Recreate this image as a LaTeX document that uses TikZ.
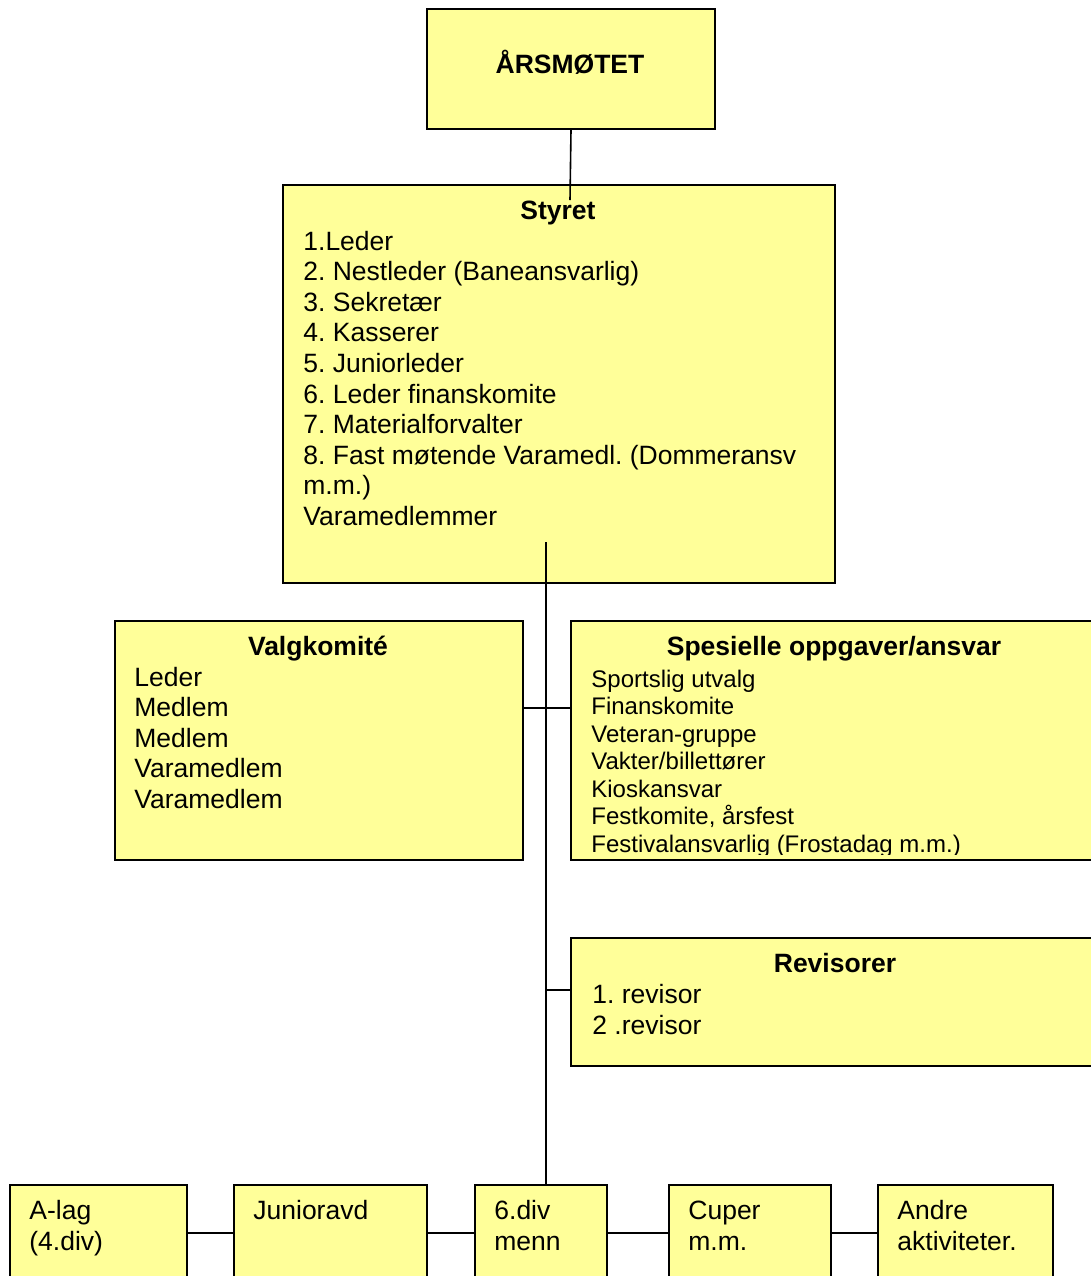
\documentclass[tikz,border=0pt]{standalone}
\usepackage{fontspec}
\setmainfont{Liberation Sans}
\frenchspacing
\definecolor{boxfill}{RGB}{255,255,153}

\begin{document}
\begin{tikzpicture}[x=0.5pt, y=-0.5pt,
	every node/.style={font=\fontsize{13.25pt}{15.3pt}\selectfont},
	box/.style={draw, line width=1pt, fill=boxfill, anchor=north west, inner sep=0pt},
	title/.style={anchor=base, inner sep=0pt, font=\fontsize{13.25pt}{15.3pt}\selectfont\bfseries},
	item/.style={anchor=base west, inner sep=0pt},
	small/.style={item, font=\fontsize{12pt}{13.7pt}\selectfont},
	link/.style={line width=0.8pt}]
	\useasboundingbox (0,0) rectangle (1091,1276);
	\clip (0,0) rectangle (1091,1276);
	\node[box, minimum width=144pt, minimum height=60pt] (aars) at (426,8) {};
	\node[title] (aarsT) at (570,73) {ÅRSMØTET};
	\node[box, minimum width=276pt, minimum height=199pt] (styret) at (282,184) {};
	\node[title] (styretT) at (558,219) {Styret};
	\foreach \t [count=\i from 0] in {1.Leder, 2. Nestleder (Baneansvarlig), 3. Sekretær, 4. Kasserer, 5. Juniorleder, 6. Leder finanskomite, 7. Materialforvalter, 8. Fast møtende Varamedl. (Dommeransv, m.m.), Varamedlemmer}
		\node[item] (styret-\i) at (303,{250+30.6*\i}) {\t};
	\node[box, minimum width=204pt, minimum height=119.5pt] (valg) at (114,620) {};
	\node[title] (valgT) at (318,655) {Valgkomité};
	\foreach \t [count=\i from 0] in {Leder, Medlem, Medlem, Varamedlem, Varamedlem}
		\node[item] (valg-\i) at (134,{686+30.6*\i}) {\t};
	\node[box, minimum width=265pt, minimum height=119.5pt] (spes) at (570,620) {};
	\node[title] (spesT) at (834,655) {Spesielle oppgaver/ansvar};
	\begin{scope}
		\clip (spes.north west) rectangle ([yshift=3.3pt]spes.south east);
		\foreach \t [count=\i from 0] in {Sportslig utvalg, Finanskomite, Veteran-gruppe, Vakter/billettører, Kioskansvar, {Festkomite, årsfest}, Festivalansvarlig (Frostadag m.m.)}
			\node[small] (spes-\i) at (591,{687+27.5*\i}) {\t};
	\end{scope}
	\node[box, minimum width=265pt, minimum height=64pt] (rev) at (570,937) {};
	\node[title] (revT) at (835,972) {Revisorer};
	\node[item] (rev-0) at (592,1003.5) {1. revisor};
	\node[item] (rev-1) at (592,1034) {2 .revisor};
	\foreach \b/\x/\w/\ta/\tb in {alag/9/88.5pt/A-lag/(4.div), junior/233/96.5pt/Junioravd/, sixdiv/474/66pt/6.div/menn, cuper/668/81pt/Cuper/m.m., andre/877/87.5pt/Andre/aktiviteter.}{
		\node[box, minimum width=\w, minimum height=48pt] (\b) at (\x,1184) {};
		\node[item] (\b-0) at ({\x+20},1219.5) {\ta};
		\node[item] (\b-1) at ({\x+20},1250) {\tb};
	}
	\coordinate (stytop) at (570,200);
	\coordinate (spine) at (546,542);
	\coordinate (vk) at (546,708);
	\coordinate (rv) at (546,990);
	\draw[link] (aars.south) -- (stytop);
	\draw[link] (spine) -- (spine |- sixdiv.north);
	\draw[link] (valg.east |- vk) -- (spes.west |- vk);
	\draw[link] (rv) -- (rev.west |- rv);
	\draw[link] (alag.east) -- (junior.west);
	\draw[link] (junior.east) -- (sixdiv.west);
	\draw[link] (sixdiv.east) -- (cuper.west);
	\draw[link] (cuper.east) -- (andre.west);
\end{tikzpicture}
\end{document}
